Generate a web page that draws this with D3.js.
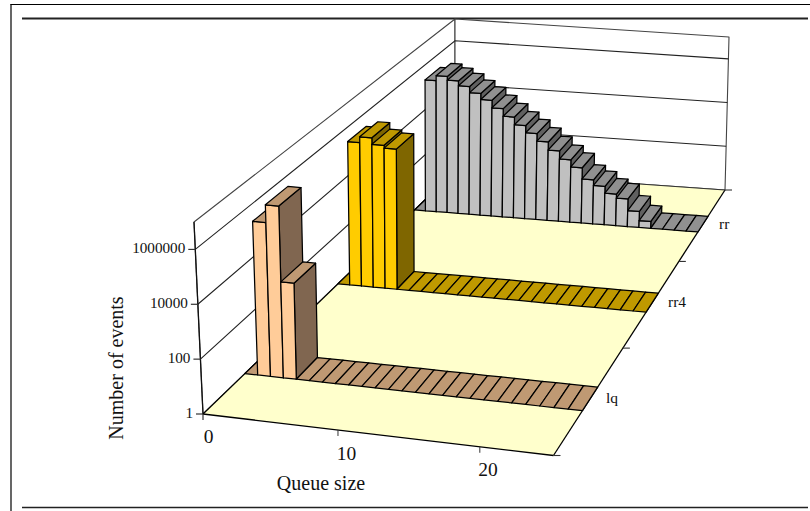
<!DOCTYPE html>
<html><head><meta charset="utf-8">
<script src="https://cdn.jsdelivr.net/npm/d3@7"></script>
<style>html,body{margin:0;padding:0;background:#fff}svg{display:block}text{font-family:"Liberation Serif",serif;fill:#111}</style>
</head><body><svg id="c" width="810" height="511"></svg>
<script>
// ---- data ----
const seriesNames = ["lq","rr4","rr"];
const queueSizes = d3.range(0,25);
const lqValues  = [1,6e5,2.8e6,4000,1,1,1,1,1,1,1,1,1,1,1,1,1,1,1,1,1,1,1,1,1];
const rr4Values = [1,7e5,1.2e6,6.5e5,5e5,1,1,1,1,1,1,1,1,1,1,1,1,1,1,1,1,1,1,1,1];
const rrValues  = [1,5.8e5,9.6e5,6.6e5,4.1e5,2.2e5,1.2e5,5.6e4,2.6e4,1.2e4,5800,2700,1200,530,260,84,48,24,16,5,2,1,1,1,1];
const valueTicks = [1,100,10000,1000000];
const queueTicks = [0,10,20];
const seriesValues = [lqValues,rr4Values,rrValues];
const colours = {
  lq:{front:"#FFCC99",top:"#BF9973",side:"#806650"},
  rr4:{front:"#FFCC00",top:"#BF9900",side:"#7F6600"},
  rr:{front:"#C0C0C0",top:"#909090",side:"#606060"}
};
// ---- projection ----
function homography(q){
  const [[x0,y0],[x1,y1],[x2,y2],[x3,y3]]=q;
  const dx1=x1-x2,dx2=x3-x2,sx=x0-x1+x2-x3,dy1=y1-y2,dy2=y3-y2,sy=y0-y1+y2-y3;
  const d=dx1*dy2-dx2*dy1,g=(sx*dy2-dx2*sy)/d,h=(dx1*sy-sx*dy1)/d;
  const a=x1-x0+g*x1,b=x3-x0+h*x3,c=x0,e=y1-y0+g*y1,f=y3-y0+h*y3,i=y0;
  return (u,v)=>{const w=g*u+h*v+1;return [(a*u+b*v+c)/w,(e*u+f*v+i)/w];};
}
const floorH=homography([[203,414],[553.5,455.5],[725,190],[455,171]]);
const topH=homography([[194,222],[559,258],[729,37],[455,19]]);
const P=(u,v,t)=>{const a=floorH(u,v),b=topH(u,v);return [a[0]+(b[0]-a[0])*t,a[1]+(b[1]-a[1])*t];};
// ---- scales ----
const xS=d3.scaleBand().domain(queueSizes).range([0,1]).padding(0);
const zS=d3.scaleBand().domain(seriesNames).range([0,1]).paddingInner(.78).paddingOuter(.39);
const yS=d3.scaleLog().domain([1,1e7]).range([0,1]);
const svg=d3.select("#c");
const line=d3.line();
const poly=(pts,fill,stroke,sw)=>svg.append("path").attr("d",line(pts)+"Z").attr("fill",fill).attr("stroke",stroke||"none").attr("stroke-width",sw||1).attr("stroke-linejoin","round");
const seg=(a,b,stroke,sw)=>svg.append("path").attr("d",line([a,b])).attr("fill","none").attr("stroke",stroke||"#000").attr("stroke-width",sw||1);
// frame
seg([11,4],[11,511],"#000",1.2);
seg([10.5,4.5],[810,4.5],"#000",1.2);
seg([22,18.5],[808,18.5],"#222",1.8);
seg([22,507.5],[808,507.5],"#222",1.5);
// walls
poly([P(0,0,0),P(0,1,0),P(0,1,1),P(0,0,1)],"#fff","#444",1.1);
poly([P(0,1,0),P(1,1,0),P(1,1,1),P(0,1,1)],"#fff","#444",1.1);
valueTicks.slice(1).forEach(d=>{
  const t=yS(d);
  svg.append("path").attr("d",line([P(0,0,t),P(0,1,t),P(1,1,t)])).attr("fill","none").attr("stroke","#222").attr("stroke-width",1.1);
});
seg(P(0,0,0),P(0,0,1),"#111",1.3);
// floor
poly([P(0,0,0),P(1,0,0),P(1,1,0),P(0,1,0)],"#FFFFCC","none");
seg(P(0,0,0),P(0,1,0),"#000",1.3);
seg(P(0,0,0),P(1,0,0),"#000",1.3);
seg(P(1,0,0),P(1,1,0),"#000",1.3);
seg(P(0,1,0),P(1,1,0),"#333",1.1);
// bars, back to front
seriesNames.map((s,i)=>({s,i})).reverse().forEach(({s,i})=>{
  const c=colours[s];
  const v0=zS(s),v1=v0+zS.bandwidth();
  queueSizes.forEach((q,k)=>{
    const u0=xS(q),u1=u0+xS.bandwidth(),t=yS(seriesValues[i][k]);
    if(t>0){
      poly([P(u1,v0,0),P(u1,v1,0),P(u1,v1,t),P(u1,v0,t)],c.side,"#000",1.25);
      poly([P(u0,v0,0),P(u1,v0,0),P(u1,v0,t),P(u0,v0,t)],c.front,"#000",1.25);
    }
    poly([P(u0,v0,t),P(u1,v0,t),P(u1,v1,t),P(u0,v1,t)],c.top,"#000",1.25);
  });
});
// value axis
valueTicks.forEach(d=>{
  const p=P(0,0,yS(d));
  seg([p[0]-7,p[1]],[p[0],p[1]],"#333",1.2);
  svg.append("text").attr("x",p[0]-10).attr("y",p[1]+4).attr("text-anchor","end").attr("font-size",15.2).text(d);
});
seg(P(0,0,0),[P(0,0,0)[0],P(0,0,0)[1]+6],"#333",1.2);
// queue axis
const qLabelPos=[[208.5,443],[346.5,460],[488,476]];
queueTicks.forEach((q,i)=>{
  const p=P(xS(q),0,0);
  if(i>0) seg(p,[p[0],p[1]+6],"#333",1);
  svg.append("text").attr("x",qLabelPos[i][0]).attr("y",qLabelPos[i][1]).attr("text-anchor","middle").attr("font-size",19.5).text(q);
});
// series axis
d3.range(0,4).forEach(i=>{
  const v=i/3,p=P(1,v,0);
  seg(p,[p[0]+7,p[1]],"#333",1.1);
});
const seriesLabelPos={lq:[606,403],rr4:[668,307],rr:[719,229]};
seriesNames.forEach(s=>{
  svg.append("text").attr("x",seriesLabelPos[s][0]).attr("y",seriesLabelPos[s][1]).attr("font-size",15.5).text(s);
});
// titles
svg.append("text").attr("x",321).attr("y",490).attr("text-anchor","middle").attr("font-size",20).text("Queue size");
svg.append("text").attr("transform","translate(123,368) rotate(-90)").attr("text-anchor","middle").attr("font-size",20).text("Number of events");
</script></body></html>
